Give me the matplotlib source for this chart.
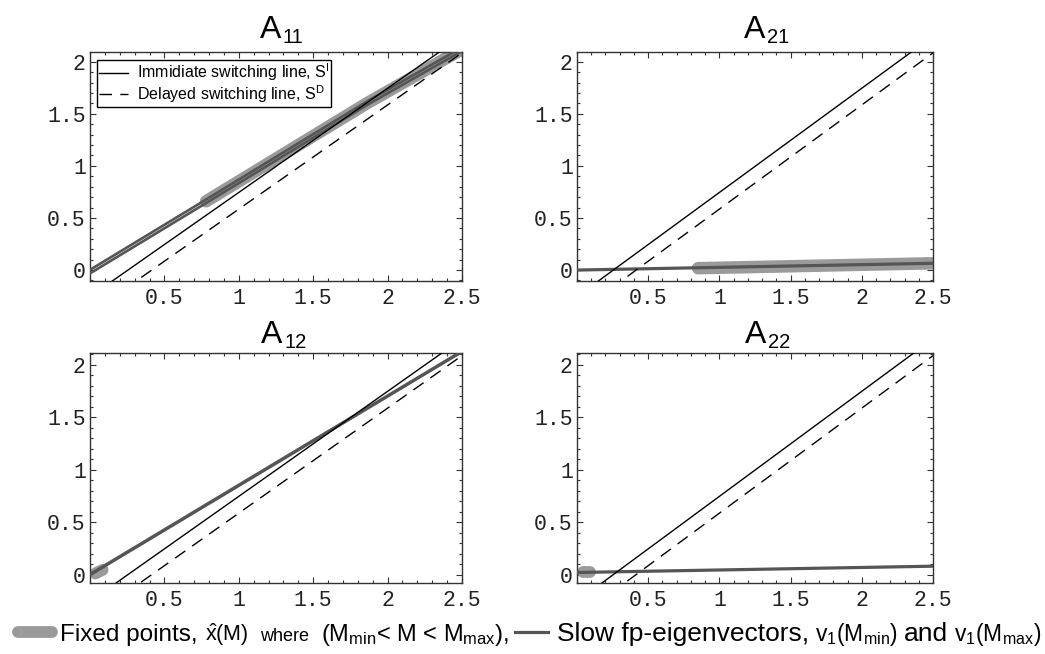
import matplotlib
matplotlib.use('Agg')
import matplotlib.pyplot as plt
from matplotlib.lines import Line2D
from matplotlib.ticker import MultipleLocator, FixedLocator

plt.rcParams['font.family'] = ['Liberation Sans', 'DejaVu Sans']
plt.rcParams['mathtext.fontset'] = 'custom'
plt.rcParams['mathtext.rm'] = 'Liberation Sans'
plt.rcParams['mathtext.it'] = 'Liberation Sans:italic'
plt.rcParams['mathtext.bf'] = 'Liberation Sans:bold'

# switching lines, same in every panel
m_ends = [0.0, 2.5]
s_immediate = [-0.255, 2.245]
s_delayed = [-0.415, 2.085]

# slow fp-eigenvectors v1(Mmin), v1(Mmax)
a11_v1_x = [0.0, 0.78, 1.86, 2.5]
a11_v1_min = [-0.032, 0.643, 1.583, 2.103]
a11_v1_max = [0.002, 0.677, 1.617, 2.137]
a21_v1 = [0.0, 0.065]
a12_v1 = [0.0, 2.125]
a22_v1 = [0.02, 0.08]

# fixed points x^(M), Mmin < M < Mmax
a11_fp_x = [0.78, 1.86, 2.5]
a11_fp_y = [0.66, 1.6, 2.12]
a21_fp_x = [0.85, 2.5]
a21_fp_y = [0.018, 0.065]
a12_fp_x = [0.035, 0.085]
a12_fp_y = [0.01, 0.045]
a22_fp_x = [0.045, 0.09]
a22_fp_y = [0.02, 0.02]

x_ticks = [0.5, 1, 1.5, 2, 2.5]
x_ticklabels = ['0.5', '1', '1.5', '2', '2.5']
y_ticks = [0, 0.5, 1, 1.5, 2]
y_ticklabels = ['0', '0.5', '1', '1.5', '2']

W, H = 1045, 654
fig = plt.figure(figsize=(W / 100, H / 100), dpi=100)


def rect(l, t, r, b):
    return [l / W, 1 - b / H, (r - l) / W, (b - t) / H]


def fy(y):
    return 1 - y / H


panels = [
    ('11', rect(90, 52, 462, 281), (-0.105, 2.093), a11_fp_x, a11_fp_y, 9, 285, 38),
    ('21', rect(577, 52, 933, 281), (-0.105, 2.093), a21_fp_x, a21_fp_y, 9, 769, 38),
    ('12', rect(90, 353, 462, 583), (-0.08, 2.11), a12_fp_x, a12_fp_y, 8.5, 286, 343),
    ('22', rect(577, 353, 933, 583), (-0.08, 2.11), a22_fp_x, a22_fp_y, 8.5, 770, 343),
]

gray_fp = '#9a9a9a'
dark_v1 = '#555555'
frame = '#333333'

for name, r, ylim, fpx, fpy, fpw, tx, tb in panels:
    ax = fig.add_axes(r)
    ax.plot(fpx, fpy, color=gray_fp, lw=fpw, solid_capstyle='round', zorder=2)
    if name == '11':
        ax.plot(a11_v1_x, a11_v1_min, color=dark_v1, lw=1.9, zorder=3)
        ax.plot(a11_v1_x, a11_v1_max, color=dark_v1, lw=1.9, zorder=3)
    elif name == '21':
        ax.plot(m_ends, a21_v1, color=dark_v1, lw=2.3, zorder=3)
    elif name == '12':
        ax.plot(m_ends, a12_v1, color=dark_v1, lw=2.5, zorder=3)
    else:
        ax.plot(m_ends, a22_v1, color=dark_v1, lw=2.3, zorder=3)
    ax.plot(m_ends, s_immediate, color='black', lw=1.0, zorder=4,
            label='Immidiate switching line, S$^{\\mathregular{I}}$')
    ax.plot(m_ends, s_delayed, color='black', lw=1.0, dashes=(9, 6), zorder=4,
            label='Delayed switching line, S$^{\\mathregular{D}}$')
    ax.set_xlim(0, 2.5)
    ax.set_ylim(*ylim)
    ax.xaxis.set_major_locator(FixedLocator(x_ticks))
    ax.set_xticklabels(x_ticklabels)
    ax.yaxis.set_major_locator(FixedLocator(y_ticks))
    ax.set_yticklabels(y_ticklabels)
    ax.xaxis.set_minor_locator(MultipleLocator(0.1))
    ax.yaxis.set_minor_locator(MultipleLocator(0.1))
    ax.tick_params(which='both', direction='in', top=True, right=True,
                   color=frame, width=0.8)
    ax.tick_params(which='major', length=4.5)
    ax.tick_params(which='minor', length=2.2)
    ax.tick_params(axis='x', pad=5)
    ax.tick_params(axis='y', pad=3)
    for lab in ax.get_xticklabels() + ax.get_yticklabels():
        lab.set_family('Liberation Mono')
        lab.set_fontsize(15.5)
        lab.set_color('#222222')
    for s in ax.spines.values():
        s.set_color(frame)
        s.set_linewidth(1.0)
    # title A_ij
    fig.text((tx - 25) / W, fy(tb), 'A', fontsize=23, ha='left', va='baseline')
    fig.text((tx - 2) / W, fy(tb + 5), name, fontsize=14.5, ha='left', va='baseline')
    if name == '11':
        leg = ax.legend(loc='upper left', bbox_to_anchor=(0.019, 0.965), borderaxespad=0,
                        fontsize=11.5, handlelength=1.85, handletextpad=0.55,
                        labelspacing=0.0, borderpad=0.1, fancybox=False,
                        framealpha=1, edgecolor='black')
        leg.get_frame().set_linewidth(1.0)

# bottom legend: pieces start at fixed x, or follow the previous one (None)
fig.canvas.draw()
renderer = fig.canvas.get_renderer()
base = fy(641)
pieces = [
    (60, 'Fixed points,', 17.5),
    (205, '$\\hat{\\mathregular{x}}$(M)', 15.5),
    (260, 'where', 13),
    (321, '(M$_{\\mathregular{min}}$< M < M$_{\\mathregular{max}}$),', 17),
    (557, 'Slow fp-eigenvectors,', 19),
    (None, 'v$_{\\mathregular{1}}$(M$_{\\mathregular{min}}$)', 16.5),
    (None, 'and', 19),
    (None, 'v$_{\\mathregular{1}}$(M$_{\\mathregular{max}}$)', 16.5),
]
fig.add_artist(Line2D([18 / W, 52 / W], [fy(632), fy(632)], color=gray_fp, lw=8.5,
                      solid_capstyle='round'))
fig.add_artist(Line2D([515 / W, 548 / W], [fy(632), fy(632)], color=dark_v1, lw=2.3))
xpos = 60
for x0, txt, size in pieces:
    if x0 is not None:
        xpos = x0
    t = fig.text(xpos / W, base, txt, fontsize=size, va='baseline')
    xpos += t.get_window_extent(renderer).width + 6

fig.savefig('out.png', dpi=100)
